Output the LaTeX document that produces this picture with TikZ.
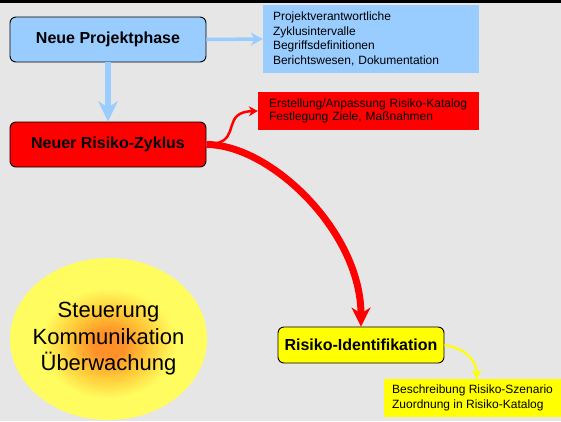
\documentclass[tikz,border=0pt]{standalone}
\usepackage{fontspec}
\setmainfont{Liberation Sans}
\usetikzlibrary{arrows.meta,shapes.geometric}

\definecolor{bg}{RGB}{230,230,230}
\definecolor{skyblue}{RGB}{153,204,255}
\definecolor{riskred}{RGB}{255,0,0}
\definecolor{idyellow}{RGB}{255,255,0}
\definecolor{glowcore}{RGB}{255,145,40}
\definecolor{glowmid}{RGB}{255,200,55}
\definecolor{glowrim}{RGB}{255,252,95}

\pgfdeclareradialshading{glow}{\pgfpoint{0bp}{-2bp}}{%
  color(0bp)=(glowcore); color(4bp)=(glowcore); color(10bp)=(glowmid);
  color(17bp)=(glowrim); color(25bp)=(glowrim); color(50bp)=(glowrim)}

\tikzset{
  phasebox/.style={draw=black, line width=0.9pt, rounded corners=6pt,
    minimum width=196pt, inner sep=0pt,
    font=\fontsize{16}{19}\selectfont\bfseries},
  infobox/.style={inner ysep=0pt, align=left,
    font=\fontsize{12}{14.5}\selectfont},
  bluearrow/.style={draw=skyblue, line width=3.5pt,
    -{Stealth[length=12pt, width=13pt, inset=4pt]}},
  bigbluearrow/.style={draw=skyblue, line width=6.5pt,
    -{Stealth[length=20pt, width=19pt, inset=6pt]}},
  bigredarrow/.style={draw=riskred, line width=7pt,
    -{Stealth[length=19pt, width=19pt, inset=6pt]}},
  smallredarrow/.style={draw=riskred, line width=2.5pt,
    -{Stealth[length=9pt, width=10pt, inset=3pt]}},
  yellowarrow/.style={draw=idyellow, line width=2.2pt,
    -{Stealth[length=9pt, width=10pt, inset=3pt]}},
}

\begin{document}
\begin{tikzpicture}[x=1pt, y=-1pt]
  % canvas and top rule
  \useasboundingbox (0,0) rectangle (561,421);
  \fill[bg] (0,0) rectangle (561,421);
  \fill[black] (0,0) rectangle (561,2.6);

  % main process boxes
  \node[phasebox, fill=skyblue, minimum height=45pt] (phase) at (108,39.5) {Neue Projektphase};
  \node[phasebox, fill=riskred, minimum height=45pt] (cycle) at (108,144.5) {Neuer Risiko-Zyklus};
  \node[phasebox, fill=idyellow, minimum width=166pt, minimum height=36pt] (ident) at (361,345) {Risiko-Identifikation};

  % detail boxes
  \node[infobox, fill=skyblue, text width=196pt, inner xsep=10pt, minimum height=68pt] (phaseinfo) at (371,39)
    {Projektverantwortliche\\Zyklusintervalle\\Begriffsdefinitionen\\Berichtswesen, Dokumentation};
  \node[infobox, fill=riskred, text width=199pt, inner xsep=11pt, minimum height=38pt,
    font=\fontsize{12}{13}\selectfont] (cycleinfo) at (368.5,111)
    {Erstellung/Anpassung Risiko-Katalog\\Festlegung Ziele, Maßnahmen};
  \node[infobox, fill=idyellow, minimum width=177pt, minimum height=38pt,
    font=\fontsize{12}{15}\selectfont] (identinfo) at (472.5,398)
    {Beschreibung Risiko-Szenario\\Zuordnung in Risiko-Katalog};

  % steering ellipse with its glowing fill
  \shade[shading=glow] (108.5,339) ellipse [x radius=98.5, y radius=81];
  \node[align=center, inner sep=0pt, font=\fontsize{22}{26.5}\selectfont] (steer) at (108.5,339)
    {Steuerung\\Kommunikation\\Überwachung};

  % connectors
  \draw[bluearrow] (phase.east) -- (phaseinfo.west);
  \draw[bigbluearrow] (phase.south) -- (cycle.north);
  \draw[bigredarrow] (cycle.east) .. controls +(64,0) and +(0,-95) .. (ident.north);
  \coordinate (fork) at (216,143.5);
  \draw[smallredarrow] (fork) .. controls (240,138) and (222,112) .. (cycleinfo.west);
  \draw[yellowarrow] (ident.east) .. controls +(18,3) and +(-1,-21) .. ([xshift=4.5pt]identinfo.north);
\end{tikzpicture}
\end{document}
